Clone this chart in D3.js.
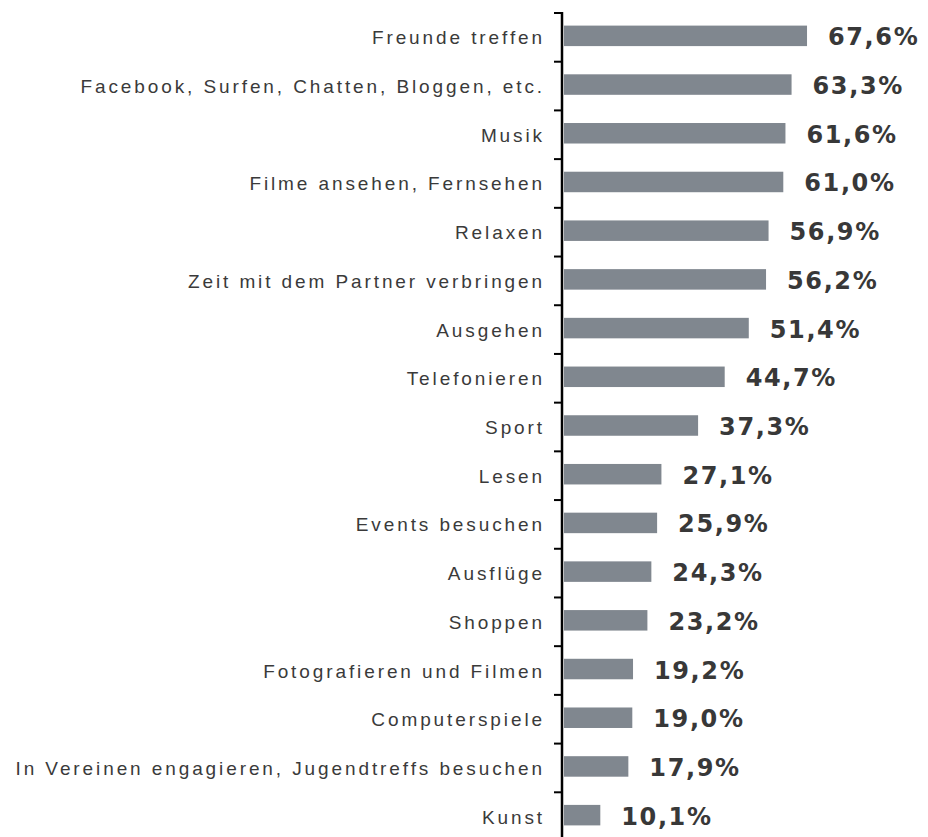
<!DOCTYPE html>
<html>
<head>
<meta charset="utf-8">
<script src="https://cdn.jsdelivr.net/npm/d3@7"></script>
<style>
  body { margin: 0; background: #fff; }
  svg { display: block; }
</style>
</head>
<body>
<div class="Canvas"></div>
<script>
let categories = [
    'Freunde treffen',
    'Facebook, Surfen, Chatten, Bloggen, etc.',
    'Musik',
    'Filme ansehen, Fernsehen',
    'Relaxen',
    'Zeit mit dem Partner verbringen',
    'Ausgehen',
    'Telefonieren',
    'Sport',
    'Lesen',
    'Events besuchen',
    'Ausflüge',
    'Shoppen',
    'Fotografieren und Filmen',
    'Computerspiele',
    'In Vereinen engagieren, Jugendtreffs besuchen',
    'Kunst',
];
let values = [67.6, 63.3, 61.6, 61.0, 56.9, 56.2, 51.4, 44.7, 37.3, 27.1, 25.9, 24.3, 23.2, 19.2, 19.0, 17.9, 10.1];

let width = 928;
let height = 837;
let axisX = 562;
let barColor = '#80878f';

let svg = d3.select('.Canvas').append('svg').attr('width', width).attr('height', height);

let x = d3.scaleLinear().domain([0, 100]).range([564, 923.5]);
let y = d3.scaleBand().domain(categories).range([13, 841]);
let barHeight = 20.5;

// bars
svg.selectAll('rect.bar')
    .data(values)
    .enter()
    .append('rect')
    .attr('class', 'bar')
    .attr('x', x(0))
    .attr('y', (d, i) => y(categories[i]) + y.bandwidth() / 2 - 1.5 - barHeight / 2)
    .attr('width', (d) => x(d) - x(0))
    .attr('height', barHeight)
    .attr('fill', barColor);

// value labels
svg.selectAll('text.value')
    .data(values)
    .enter()
    .append('text')
    .attr('class', 'value')
    .attr('x', (d) => x(d) + 21)
    .attr('y', (d, i) => y(categories[i]) + y.bandwidth() / 2 + 8)
    .attr('font-family', 'DejaVu Sans, sans-serif')
    .attr('font-weight', 'bold')
    .attr('font-size', '24px')
    .attr('letter-spacing', '1.6px')
    .attr('fill', '#383838')
    .text((d) => d.toFixed(1).replace('.', ',') + '%');

// category labels
svg.selectAll('text.cat')
    .data(categories)
    .enter()
    .append('text')
    .attr('class', 'cat')
    .attr('x', 545)
    .attr('y', (d) => y(d) + y.bandwidth() / 2 + 7)
    .attr('text-anchor', 'end')
    .attr('font-family', 'Liberation Sans, Arial, sans-serif')
    .attr('font-size', '19px')
    .attr('letter-spacing', '2.9px')
    .attr('fill', '#3a3a3a')
    .text((d) => d);

// axis line + ticks at band boundaries
let tickYs = categories.map((c) => y(c)).concat([y.range()[1]]);
svg.append('line')
    .attr('x1', axisX)
    .attr('x2', axisX)
    .attr('y1', tickYs[0] - 1)
    .attr('y2', height + 5)
    .attr('stroke', 'black')
    .attr('stroke-width', 2.5);
svg.selectAll('line.tick')
    .data(tickYs)
    .enter()
    .append('line')
    .attr('class', 'tick')
    .attr('x1', axisX - 8)
    .attr('x2', axisX)
    .attr('y1', (d) => d)
    .attr('y2', (d) => d)
    .attr('stroke', 'black')
    .attr('stroke-width', 2);
</script>
</body>
</html>
